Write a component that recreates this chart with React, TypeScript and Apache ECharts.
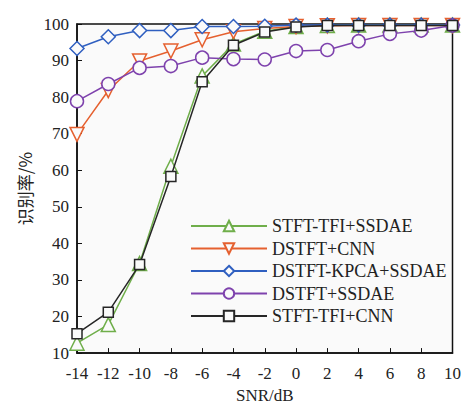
import React, { useEffect, useRef } from "react";
import * as echarts from "echarts";

const snr = [-14, -12, -10, -8, -6, -4, -2, 0, 2, 4, 6, 8, 10];
const stftTfiSsdae = [12.7, 17.8, 34.5, 61.1, 85.8, 94.5, 98.0, 99.3, 99.6, 99.7, 99.7, 99.7, 99.7];
const dstftCnn = [69.8, 81.8, 89.9, 92.6, 95.7, 97.9, 98.8, 99.3, 99.5, 99.6, 99.6, 99.6, 99.6];
const dstftKpcaSsdae = [93.3, 96.5, 98.2, 98.2, 99.3, 99.3, 99.4, 99.7, 99.7, 99.7, 99.7, 99.7, 99.7];
const dstftSsdae = [78.9, 83.6, 88.0, 88.5, 90.8, 90.4, 90.3, 92.6, 92.9, 95.3, 97.3, 98.2, 99.6];
const stftTfiCnn = [15.3, 21.2, 34.2, 58.3, 84.2, 94.2, 97.8, 99.2, 99.6, 99.6, 99.6, 99.6, 99.6];

const seriesNames = ["STFT-TFI+SSDAE", "DSTFT+CNN", "DSTFT-KPCA+SSDAE", "DSTFT+SSDAE", "STFT-TFI+CNN"];
const seriesData = [stftTfiSsdae, dstftCnn, dstftKpcaSsdae, dstftSsdae, stftTfiCnn];

const FONT = "'Liberation Serif', 'Times New Roman', serif";
const BG = "#fafafa";

export default function App() {
  const ref = useRef<HTMLDivElement>(null);
  useEffect(() => {
    if (!ref.current) return;
    const chart = echarts.init(ref.current, null, { renderer: "svg" });
    const colors = ["#6fae4a", "#e5602f", "#2f5fc0", "#7e42ad", "#262626"];
    const symbols = ["triangle", "triangle", "diamond", "circle", "rect"];
    const rotates = [0, 180, 0, 0, 0];
    const sizes = [14, 14, 14, 13, 10];
    const series = seriesNames.map((name, i) => ({
      name,
      type: "line",
      data: snr.map((x, j) => [x, seriesData[i][j]]),
      symbol: symbols[i],
      symbolRotate: rotates[i],
      symbolSize: sizes[i],
      showAllSymbol: true,
      lineStyle: { color: colors[i], width: 1.5 },
      itemStyle: { color: BG, borderColor: colors[i], borderWidth: 1.5 },
      z: 2 + i,
    }));
    chart.setOption({
      animation: false,
      backgroundColor: "#ffffff",
      textStyle: { fontFamily: FONT },
      grid: {
        left: 77,
        right: 5,
        top: 24,
        bottom: 47,
        show: true,
        backgroundColor: BG,
        borderColor: "#111",
        borderWidth: 1.5,
      },
      legend: {
        orient: "vertical",
        left: 185,
        top: 212,
        itemWidth: 76,
        itemHeight: 13,
        itemGap: 4.5,
        data: seriesNames,
        textStyle: { fontFamily: FONT, fontSize: 18, color: "#222" },
      },
      xAxis: {
        type: "value",
        min: -14,
        max: 10,
        interval: 2,
        name: "SNR/dB",
        nameLocation: "middle",
        nameGap: 33,
        nameTextStyle: { fontFamily: FONT, fontSize: 17, color: "#222" },
        axisLine: { show: true, onZero: false, lineStyle: { color: "#111", width: 1.5 } },
        axisTick: { show: true, inside: true, length: 5, lineStyle: { color: "#111" } },
        axisLabel: { fontFamily: FONT, fontSize: 17, color: "#222", margin: 12 },
        splitLine: { show: false },
      },
      yAxis: {
        type: "value",
        min: 10,
        max: 100,
        interval: 10,
        name: "识别率/%",
        nameLocation: "middle",
        nameGap: 43,
        nameRotate: 90,
        nameTextStyle: { fontFamily: "'Noto Sans CJK SC', " + FONT, fontSize: 17, color: "#222" },
        axisLine: { show: true, onZero: false, lineStyle: { color: "#111", width: 1.5 } },
        axisTick: { show: true, inside: true, length: 5, lineStyle: { color: "#111" } },
        axisLabel: { fontFamily: FONT, fontSize: 17, color: "#222", margin: 8 },
        splitLine: { show: false },
      },
      series,
    });
    return () => chart.dispose();
  }, []);
  return <div ref={ref} style={{ width: 464, height: 409, position: "absolute", left: 0, top: 0 }} />;
}
